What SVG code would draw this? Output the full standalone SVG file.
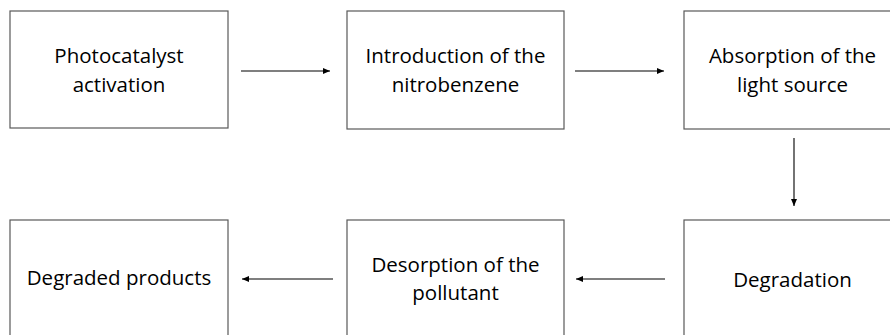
<svg xmlns="http://www.w3.org/2000/svg" width="890" height="335" viewBox="0 0 890 335">
<style>
.box{fill:#fff;stroke:#595959;stroke-width:1.2}
.t{font-family:"Open Sans","Liberation Sans",sans-serif;font-size:20.5px;fill:#000;text-anchor:middle}
.c{stroke:#000;stroke-width:1.1;fill:none;marker-end:url(#ah)}
</style>
<defs>
<marker id="ah" markerWidth="8" markerHeight="8" refX="7" refY="4" orient="auto" markerUnits="userSpaceOnUse">
<path d="M0,1 L7,4 L0,7 Z" fill="#000"/>
</marker>
</defs>
<rect width="890" height="335" fill="#fff"/>
<g id="n1"><rect class="box" x="10" y="11" width="218" height="117"/>
<text class="t" x="119" y="63">Photocatalyst</text><text class="t" x="119" y="92">activation</text></g>
<g id="n2"><rect class="box" x="347" y="11" width="217" height="118"/>
<text class="t" x="455.5" y="63">Introduction of the</text><text class="t" x="455.5" y="92">nitrobenzene</text></g>
<g id="n3"><rect class="box" x="684" y="11" width="217" height="118"/>
<text class="t" x="792.5" y="63">Absorption of the</text><text class="t" x="792.5" y="92">light source</text></g>
<g id="n4"><rect class="box" x="684" y="220" width="217" height="130"/>
<text class="t" x="792.5" y="287">Degradation</text></g>
<g id="n5"><rect class="box" x="347" y="220" width="217" height="130"/>
<text class="t" x="455.5" y="272">Desorption of the</text><text class="t" x="455.5" y="300">pollutant</text></g>
<g id="n6"><rect class="box" x="10" y="220" width="218" height="130"/>
<text class="t" x="119" y="285">Degraded products</text></g>
<g id="connectors">
<line class="c" x1="241" y1="71" x2="330" y2="71"/>
<line class="c" x1="575" y1="71" x2="664" y2="71"/>
<line class="c" x1="794" y1="138" x2="794" y2="206"/>
<line class="c" x1="665" y1="279" x2="576" y2="279"/>
<line class="c" x1="333" y1="279" x2="242" y2="279"/>
</g>
</svg>
